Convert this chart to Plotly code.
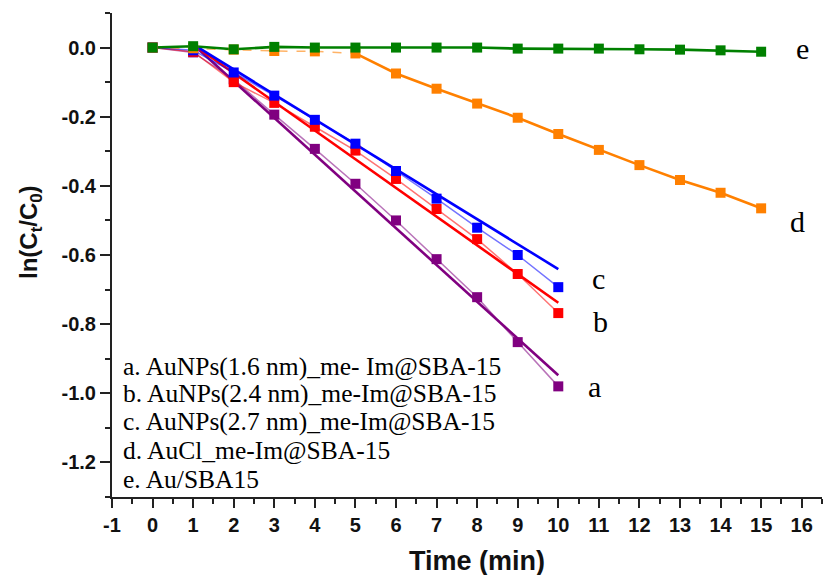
import plotly.graph_objects as go
import numpy as np

# Sampling times (min)
t_short = [0, 1, 2, 3, 4, 5, 6, 7, 8, 9, 10]
t_long = [0, 1, 2, 3, 4, 5, 6, 7, 8, 9, 10, 11, 12, 13, 14, 15]

# ln(Ct/C0) for each catalyst
y_a = [0.0, -0.014, -0.092, -0.194, -0.293, -0.394, -0.500, -0.612, -0.722, -0.852, -0.980]
y_b = [0.0, -0.012, -0.100, -0.160, -0.229, -0.298, -0.380, -0.467, -0.554, -0.655, -0.768]
y_c = [0.0, -0.008, -0.072, -0.139, -0.209, -0.278, -0.357, -0.437, -0.521, -0.600, -0.693]
y_d = [0.0, -0.002, -0.006, -0.010, -0.011, -0.017, -0.075, -0.119, -0.162, -0.203,
       -0.250, -0.296, -0.340, -0.383, -0.420, -0.465]
y_e = [0.0, 0.004, -0.005, 0.002, 0.0, 0.0, 0.0, 0.0, 0.0, -0.003,
       -0.003, -0.003, -0.005, -0.006, -0.008, -0.012]

# Linear fits (slope, intercept) over 1-10 min
fit_a = (-0.1063, 0.1153)
fit_b = (-0.0830, 0.0920)
fit_c = (-0.0722, 0.0812)
fit_range = [1, 10]

# Onset of the linear region for AuCl_me-Im@SBA-15
d_onset = 5

# Axis tick positions
x_ticks = list(range(-1, 17))
y_ticks = [0.0, -0.2, -0.4, -0.6, -0.8, -1.0, -1.2]

legend_lines = [
    "a. AuNPs(1.6 nm)_me- Im@SBA-15",
    "b. AuNPs(2.4 nm)_me-Im@SBA-15",
    "c. AuNPs(2.7 nm)_me-Im@SBA-15",
    "d. AuCl_me-Im@SBA-15",
    "e. Au/SBA15",
]
curve_labels = ["a", "b", "c", "d", "e"]

PURPLE = "#800080"
RED = "#FF0000"
BLUE = "#0000FF"
ORANGE = "#FF8000"
GREEN = "#008000"


def faint(hex_color, alpha=0.55):
    h = hex_color.lstrip("#")
    r, g, b = int(h[0:2], 16), int(h[2:4], 16), int(h[4:6], 16)
    return f"rgba({r},{g},{b},{alpha})"


fig = go.Figure()

series = [
    (t_short, y_a, PURPLE, fit_a),
    (t_short, y_b, RED, fit_b),
    (t_short, y_c, BLUE, fit_c),
]

for t, y, col, (m, c) in series:
    # thin line joining the measured points
    fig.add_trace(go.Scatter(x=t, y=y, mode="lines",
                             line=dict(color=faint(col), width=1.5),
                             showlegend=False, hoverinfo="skip"))
    # fitted straight line
    xf = np.array(fit_range, dtype=float)
    fig.add_trace(go.Scatter(x=xf, y=m * xf + c, mode="lines",
                             line=dict(color=col, width=2.6),
                             showlegend=False, hoverinfo="skip"))

# AuCl_me-Im@SBA-15: faint induction part, solid afterwards
td = np.array(t_long)
yd = np.array(y_d)
fig.add_trace(go.Scatter(x=td[td <= d_onset], y=yd[td <= d_onset], mode="lines",
                         line=dict(color=faint(ORANGE, 0.6), width=1.5, dash="dash"),
                         showlegend=False, hoverinfo="skip"))
fig.add_trace(go.Scatter(x=td[td >= d_onset], y=yd[td >= d_onset], mode="lines",
                         line=dict(color=ORANGE, width=2.6),
                         showlegend=False, hoverinfo="skip"))

# Au/SBA15
fig.add_trace(go.Scatter(x=t_long, y=y_e, mode="lines",
                         line=dict(color=GREEN, width=2.6),
                         showlegend=False, hoverinfo="skip"))

# markers
for t, y, col in [(t_short, y_a, PURPLE), (t_short, y_b, RED), (t_short, y_c, BLUE),
                  (t_long, y_d, ORANGE), (t_long, y_e, GREEN)]:
    fig.add_trace(go.Scatter(x=t, y=y, mode="markers",
                             marker=dict(symbol="square", size=10, color=col,
                                         line=dict(width=0)),
                             showlegend=False))

# plot-area geometry in pixels
L, R, T, B = 112, 822, 13, 497
W, H = 823, 575


def px(xp):
    return (xp - L) / (R - L)


def py(yp):
    return (B - yp) / (B - T)


annotations = []
# curve letters
letter_pos = [(594, 386), (600, 321), (598, 278), (797, 221), (802, 49)]
for lab, (x0, y0) in zip(curve_labels, letter_pos):
    annotations.append(dict(x=px(x0), y=py(y0), xref="paper", yref="paper",
                            text=lab, showarrow=False, xanchor="center", yanchor="middle",
                            font=dict(family="Liberation Serif", size=30, color="black")))

# legend block
legend_y = [366, 393, 421, 450, 479]
for txt, y0 in zip(legend_lines, legend_y):
    annotations.append(dict(x=px(121), y=py(y0), xref="paper", yref="paper",
                            text=txt, showarrow=False, xanchor="left", yanchor="middle",
                            font=dict(family="Liberation Serif", size=25.5, color="black")))

# axis titles
annotations.append(dict(x=px(477), y=py(561), xref="paper", yref="paper",
                        text="<b>Time (min)</b>", showarrow=False,
                        xanchor="center", yanchor="middle",
                        font=dict(family="Liberation Sans", size=27, color="#111")))
annotations.append(dict(x=px(30), y=py(232), xref="paper", yref="paper",
                        text="<b>ln(C<sub>t</sub>/C<sub>0</sub>)</b>", showarrow=False,
                        textangle=-90, xanchor="center", yanchor="middle",
                        font=dict(family="Liberation Sans", size=24, color="#111")))

axis_font = dict(family="Liberation Sans", size=20, color="#111", weight="bold")

fig.update_layout(
    width=W, height=H,
    margin=dict(l=L, r=W - R, t=T, b=H - B, pad=0),
    paper_bgcolor="white", plot_bgcolor="white",
    annotations=annotations,
)
fig.update_xaxes(range=[-1, 16.5], tickmode="array", tickvals=x_ticks,
                 ticktext=[str(v) for v in x_ticks],
                 showgrid=False, zeroline=False,
                 showline=True, linecolor="#222", linewidth=2,
                 ticks="outside", ticklen=9, tickwidth=2, tickcolor="#222",
                 minor=dict(dtick=0.5, tick0=-1, ticks="outside", ticklen=5, tickwidth=1.5,
                            tickcolor="#222"),
                 tickfont=axis_font)
fig.update_yaxes(range=[-1.3, 0.1], tickmode="array", tickvals=y_ticks,
                 ticktext=[f"{v:.1f}" for v in y_ticks],
                 showgrid=False, zeroline=False,
                 showline=True, linecolor="#222", linewidth=2,
                 ticks="outside", ticklen=10, tickwidth=2, tickcolor="#222",
                 minor=dict(dtick=0.1, tick0=0, ticks="outside", ticklen=5, tickwidth=1.5,
                            tickcolor="#222"),
                 tickfont=axis_font)

fig.write_html("out.html")
